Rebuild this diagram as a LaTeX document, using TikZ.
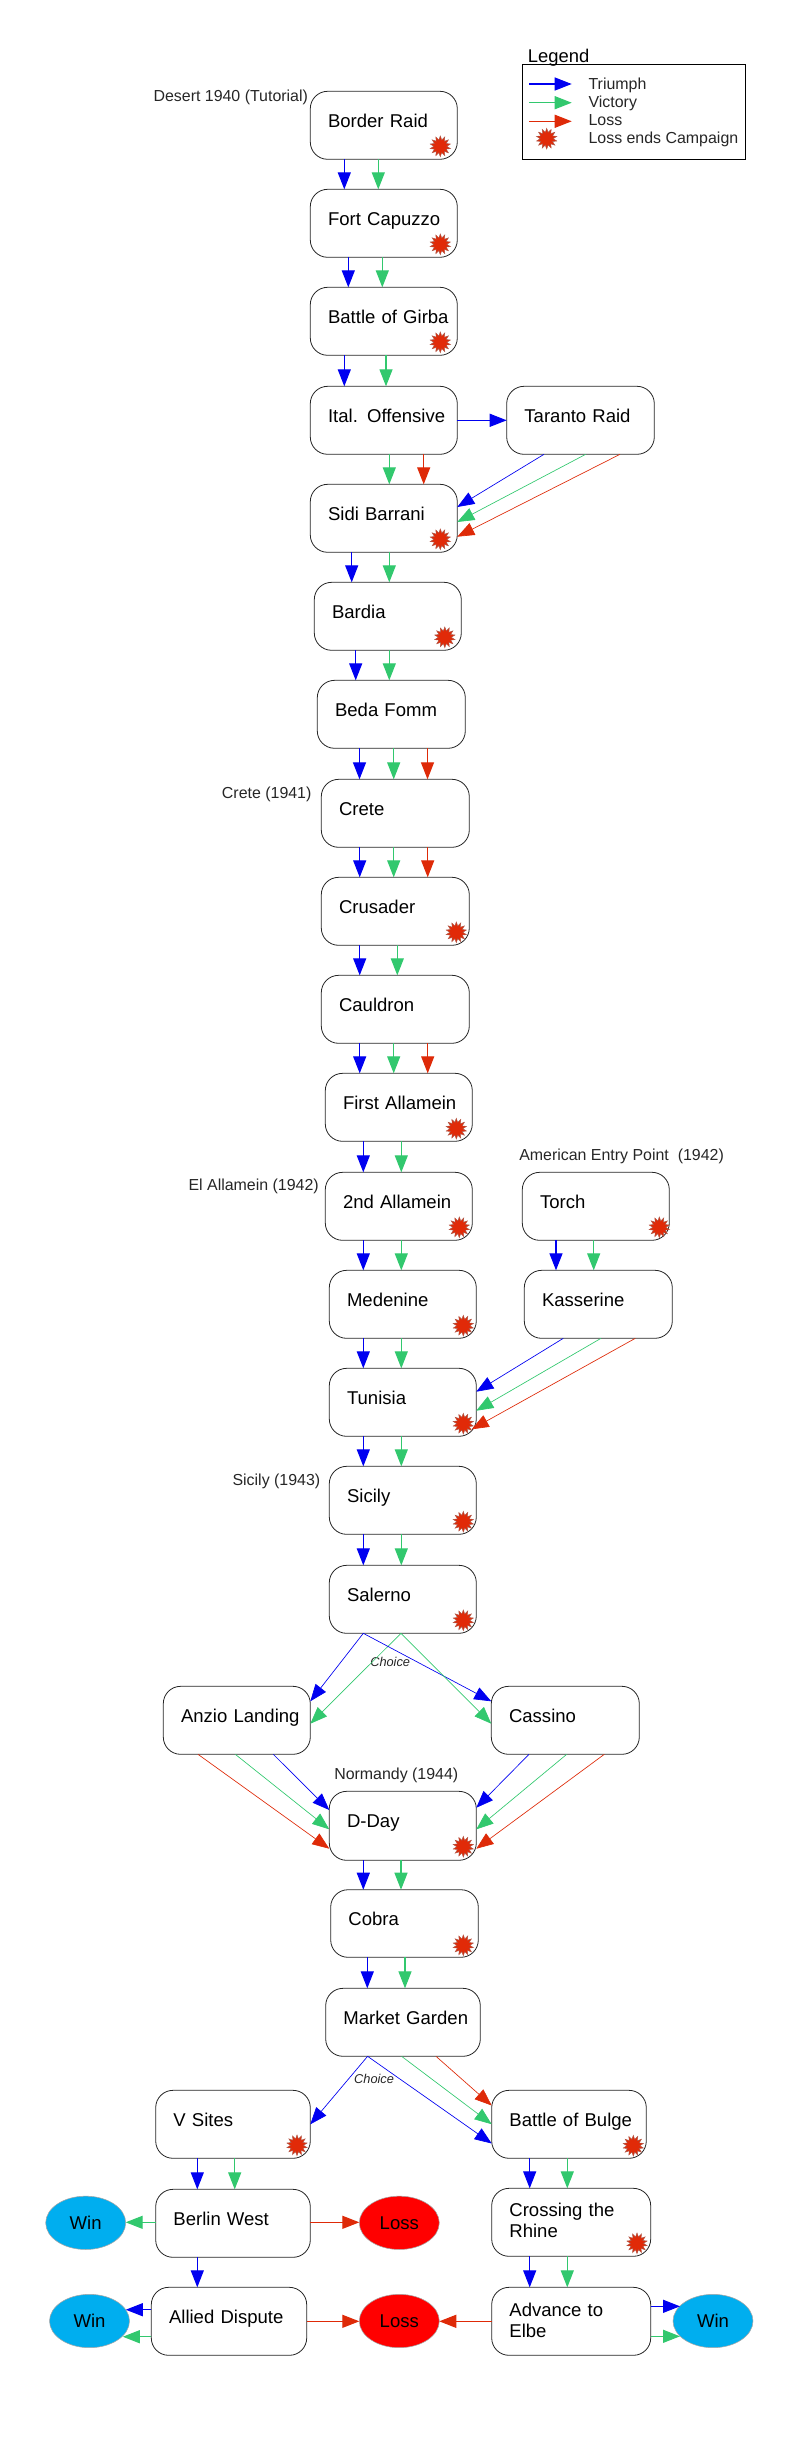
\documentclass[tikz,border=0pt]{standalone}
\usepackage{fontspec}
\setmainfont{Liberation Sans}
\usetikzlibrary{arrows.meta,shapes.geometric}
\definecolor{cT}{RGB}{0,0,240}
\definecolor{cV}{RGB}{50,200,110}
\definecolor{cL}{RGB}{222,42,8}
\definecolor{cWin}{RGB}{0,174,239}
\definecolor{cLoss}{RGB}{255,0,0}
\definecolor{cBurst}{RGB}{225,42,8}
\newdimen\pxu \pxu=0.75pt
\tikzset{
  box/.style={draw=black!85,line width=0.6pt,rounded corners=13pt,fill=white,anchor=north west,
    inner xsep=13.3pt,inner ysep=0pt,outer sep=0pt,align=left,
    font=\fontsize{13.9pt}{15.75pt}\selectfont},
  endnode/.style={ellipse,minimum width=60pt,minimum height=40pt,inner sep=0pt,outer sep=0pt,
    draw=black!35,line width=0.4pt,font=\fontsize{13.9pt}{16pt}\selectfont},
  winnode/.style={endnode,fill=cWin},
  lossnode/.style={endnode,fill=cLoss},
  note/.style={anchor=base west,inner sep=0pt,font=\fontsize{11.95pt}{14pt}\selectfont,text=black!85},
  choice/.style={anchor=base west,inner sep=0pt,font=\fontsize{9.6pt}{11pt}\itshape\selectfont,text=black!85},
  burst/.style={star,star points=14,star point ratio=1.6,minimum size=15.5pt,inner sep=0pt,
    fill=cBurst,draw=cBurst!50!gray,line width=0.35pt},
  tip/.style={-{Triangle[length=12.75pt,width=9.8pt]}},
  vline/.style={tip,line width=0.8pt},
  dline/.style={tip,line width=0.5pt},
}
\newcommand\Bx[7][]{%
  \pgfmathsetlengthmacro\bxd{(#6-#4-36)*0.75pt}%
  \pgfmathsetlengthmacro\bxt{(#5-#3)*0.75pt-26.6pt}%
  \node[box,text width=\bxt,text height=27pt,text depth=\bxd,#1] (#2) at (#3,#4) {\mbox{#7}};}
\newcommand\TwoL[2]{\vbox{\hbox{#1}\hbox{#2}}}
% vertical edge: colour, source, x, target, x
\newcommand\VE[5]{\draw[vline,#1] (#3,0 |- #2.south) -- (#5,0 |- #4.north);}
% diagonal edge into the east or west side of the target
\newcommand\DE[6]{\draw[dline,#1] (#3,0 |- #2.south) -- (#4.#5 |- 0,#6);}
% horizontal edge
\newcommand\HE[6]{\draw[vline,#1] (#2.#3 |- 0,#6) -- (#4.#5 |- 0,#6);}
\newcommand\Bu[3]{\node[burst] (#1b) at ([xshift=-#2\pxu,yshift=#3\pxu]#1.south east) {};}
\begin{document}
\begin{tikzpicture}[x=0.75pt,y=-0.75pt]
\useasboundingbox (0,0) rectangle (794,2457);
% battle boxes
\Bx{br}{310.3}{91.3}{457.3}{159.3}{Border Raid}
\Bx{fc}{310.3}{189.3}{457.3}{257.3}{Fort Capuzzo}
\Bx{bg}{310.3}{287.3}{457.3}{355.3}{Battle of Girba}
\Bx{io}{310.3}{386.3}{457.3}{454.3}{Ital. Offensive}
\Bx{tr}{506.7}{386.3}{654.3}{454.3}{Taranto Raid}
\Bx{sb}{310.3}{484.3}{457.3}{552.3}{Sidi Barrani}
\Bx{ba}{314.3}{582.3}{461.3}{650.3}{Bardia}
\Bx{bf}{317.3}{680.3}{465.3}{748.3}{Beda Fomm}
\Bx{cr}{321.3}{779.3}{469.3}{847.3}{Crete}
\Bx{cu}{321.3}{877.3}{469.3}{945.3}{Crusader}
\Bx{ca}{321.3}{975.3}{469.3}{1043.3}{Cauldron}
\Bx{fa}{325.3}{1073.3}{472.3}{1141.3}{First Allamein}
\Bx{sa}{325.3}{1172.3}{472.3}{1240.3}{2nd Allamein}
\Bx{to}{522.3}{1172.3}{669.3}{1240.3}{Torch}
\Bx{me}{329.3}{1270.3}{476.3}{1338.3}{Medenine}
\Bx{ka}{524.3}{1270.3}{672.3}{1338.3}{Kasserine}
\Bx{tu}{329.3}{1368.3}{476.3}{1436.3}{Tunisia}
\Bx{si}{329.3}{1466.3}{476.3}{1534.3}{Sicily}
\Bx{sl}{329.3}{1565.3}{476.3}{1633.3}{Salerno}
\Bx{an}{163.3}{1686.3}{310.3}{1754.3}{Anzio Landing}
\Bx{cs}{491.3}{1686.3}{639.3}{1754.3}{Cassino}
\Bx{dd}{329.3}{1791.3}{476.3}{1860.3}{D-Day}
\Bx{co}{330.7}{1889.7}{478.3}{1957.3}{Cobra}
\Bx{mg}{325.7}{1988.3}{480.3}{2056.3}{Market Garden}
\Bx{vs}{155.7}{2090.3}{310.3}{2158.3}{V Sites}
\Bx{bb}{491.7}{2090.3}{646.3}{2158.3}{Battle of Bulge}
\Bx{bw}{155.7}{2189.3}{310.3}{2257.3}{Berlin West}
\Bx[text height=37pt,text depth=14pt]{cn}{491.7}{2188.3}{650.7}{2256.3}{\TwoL{Crossing the}{Rhine}}
\Bx{ad}{151.3}{2287.3}{306.7}{2355.3}{Allied Dispute}
\Bx[text height=37.8pt,text depth=13.2pt]{ae}{491.7}{2287.3}{650.7}{2355.3}{\TwoL{Advance to}{Elbe}}
% end nodes
\node[winnode] (w1) at (85.7,2222.8) {Win};
\node[lossnode] (l1) at (399.3,2222.8) {Loss};
\node[winnode] (w2) at (89.5,2321) {Win};
\node[lossnode] (l2) at (399.3,2321) {Loss};
\node[winnode] (w3) at (713,2321) {Win};
% bursts
\Bu{br}{17}{13}\Bu{fc}{17}{13}\Bu{bg}{17}{13}\Bu{sb}{17}{13}\Bu{ba}{16.5}{13}
\Bu{cu}{13}{13}\Bu{fa}{16}{12.6}\Bu{sa}{13}{13}\Bu{to}{10}{13}\Bu{me}{13}{12.6}
\Bu{tu}{13}{12.6}\Bu{si}{13}{12.6}\Bu{sl}{13}{13}\Bu{dd}{13}{13.6}\Bu{co}{15}{12}
\Bu{vs}{13.3}{13}\Bu{bb}{13}{12.6}\Bu{cn}{13.7}{13}
% campaign labels
\node[note] (n1) at (153.3,101) {Desert 1940 (Tutorial)};
\node[note] (n2) at (221.7,798.3) {Crete (1941)};
\node[note] (n3) at (188.3,1190.3) {El Allamein (1942)};
\node[note] (n4) at (519,1160.3) {American Entry Point\ \ (1942)};
\node[note] (n5) at (232.3,1485.3) {Sicily (1943)};
\node[note] (n6) at (334,1779.3) {Normandy (1944)};
\node[choice] (c1) at (370,1666.7) {Choice};
\node[choice] (c2) at (353.9,2083.3) {Choice};
% edges
\VE{cT}{br}{344.3}{fc}{344.3}\VE{cV}{br}{378.3}{fc}{378.3}
\VE{cT}{fc}{348.3}{bg}{348.3}\VE{cV}{fc}{382.3}{bg}{382.3}
\VE{cT}{bg}{344.3}{io}{344.3}\VE{cV}{bg}{386}{io}{386}
\VE{cV}{io}{389.3}{sb}{389.3}\VE{cL}{io}{423.7}{sb}{423.7}
\HE{cT}{io}{east}{tr}{west}{420.3}
\DE{cT}{tr}{544}{sb}{east}{507}
\DE{cV}{tr}{585.7}{sb}{east}{522}
\DE{cL}{tr}{620}{sb}{east}{536.7}
\VE{cT}{sb}{351.7}{ba}{351.7}\VE{cV}{sb}{389.3}{ba}{389.3}
\VE{cT}{ba}{355.7}{bf}{355.7}\VE{cV}{ba}{389.3}{bf}{389.3}
\VE{cT}{bf}{359.5}{cr}{359.5}\VE{cV}{bf}{393.7}{cr}{393.7}\VE{cL}{bf}{427.5}{cr}{427.5}
\VE{cT}{cr}{359.7}{cu}{359.7}\VE{cV}{cr}{393.7}{cu}{393.7}\VE{cL}{cr}{427.7}{cu}{427.7}
\VE{cT}{cu}{359.7}{ca}{359.7}\VE{cV}{cu}{397.3}{ca}{397.3}
\VE{cT}{ca}{359.7}{fa}{359.7}\VE{cV}{ca}{393.7}{fa}{393.7}\VE{cL}{ca}{427.7}{fa}{427.7}
\VE{cT}{fa}{363.3}{sa}{363.3}\VE{cV}{fa}{401.3}{sa}{401.3}
\VE{cT}{sa}{363.3}{me}{363.3}\VE{cV}{sa}{401.3}{me}{401.3}
\VE{cT}{me}{363.3}{tu}{363.3}\VE{cV}{me}{401.3}{tu}{401.3}
\VE{cT}{tu}{363.3}{si}{363.3}\VE{cV}{tu}{401.3}{si}{401.3}
\VE{cT}{si}{363.3}{sl}{363.3}\VE{cV}{si}{401.3}{sl}{401.3}
\VE{cT}{to}{556}{ka}{556}\VE{cV}{to}{593.7}{ka}{593.7}
\DE{cT}{ka}{563.3}{tu}{east}{1391.7}
\DE{cV}{ka}{601}{tu}{east}{1410.7}
\draw[dline,cL] (635.3,0 |- ka.south) -- ([xshift=-4.6\pxu]tu.east |- 0,1429.3);
\DE{cT}{sl}{363.3}{an}{east}{1701.3}
\DE{cV}{sl}{401}{an}{east}{1723.7}
\DE{cT}{sl}{363.3}{cs}{west}{1701.3}
\DE{cV}{sl}{401}{cs}{west}{1723.7}
\DE{cT}{an}{273.3}{dd}{west}{1810}
\DE{cV}{an}{235.3}{dd}{west}{1829.3}
\DE{cL}{an}{198}{dd}{west}{1848.7}
\DE{cT}{cs}{529}{dd}{east}{1807.7}
\DE{cV}{cs}{566.7}{dd}{east}{1829.3}
\DE{cL}{cs}{604.3}{dd}{east}{1848.7}
\VE{cT}{dd}{363.3}{co}{363.3}\VE{cV}{dd}{401}{co}{401}
\VE{cT}{co}{367.3}{mg}{367.3}\VE{cV}{co}{405}{mg}{405}
\DE{cT}{mg}{367.6}{vs}{east}{2124.3}
\DE{cT}{mg}{367.6}{bb}{west}{2143.5}
\DE{cV}{mg}{401.6}{bb}{west}{2124.2}
\DE{cL}{mg}{436}{bb}{west}{2105.5}
\VE{cT}{vs}{197.3}{bw}{197.3}\VE{cV}{vs}{234.7}{bw}{234.7}
\VE{cT}{bb}{529.7}{cn}{529.7}\VE{cV}{bb}{567.3}{cn}{567.3}
\VE{cT}{cn}{529.7}{ae}{529.7}\VE{cV}{cn}{567.3}{ae}{567.3}
\VE{cT}{bw}{197.3}{ad}{197.3}
\HE{cV}{bw}{west}{w1}{east}{2222.3}
\HE{cL}{bw}{east}{l1}{west}{2222.3}
\draw[vline,cT] (ad.west |- 0,2309.7) -- ([xshift=-3.7\pxu]w2.east |- 0,2309.7);
\draw[vline,cV] (ad.west |- 0,2336.7) -- ([xshift=-6.7\pxu]w2.east |- 0,2336.7);
\HE{cL}{ad}{east}{l2}{west}{2321.3}
\HE{cL}{ae}{west}{l2}{east}{2321.3}
\draw[vline,cT] (ae.east |- 0,2306.3) -- ([xshift=7\pxu]w3.west |- 0,2306.3);
\draw[vline,cV] (ae.east |- 0,2336.3) -- ([xshift=7\pxu]w3.west |- 0,2336.3);
% legend
\node[draw=black,line width=0.65pt,anchor=north west,minimum width=167.55pt,minimum height=71.25pt,inner sep=0pt,outer sep=0pt] (lg) at (522.3,64.3) {};
\node[anchor=base west,inner sep=0pt,font=\fontsize{13.8pt}{16pt}\selectfont] (lgt) at (527.7,62.3) {Legend};
\node[note] (lg1) at (588.3,89.3) {Triumph};
\node[note] (lg2) at (588.3,107.3) {Victory};
\node[note] (lg3) at (588.3,125.7) {Loss};
\node[note] (lg4) at (588.3,143.7) {Loss ends Campaign};
\coordinate (a1) at (529.3,84); \coordinate (b1) at (571.7,84);
\coordinate (a2) at (529.3,102.7); \coordinate (b2) at (571.7,102.7);
\coordinate (a3) at (529.3,121.3); \coordinate (b3) at (571.7,121.3);
\draw[vline,cT] (a1) -- (b1);
\draw[vline,cV] (a2) -- (b2);
\draw[vline,cL] (a3) -- (b3);
\node[burst] (lgb) at (546.7,138.7) {};
\end{tikzpicture}
\end{document}
